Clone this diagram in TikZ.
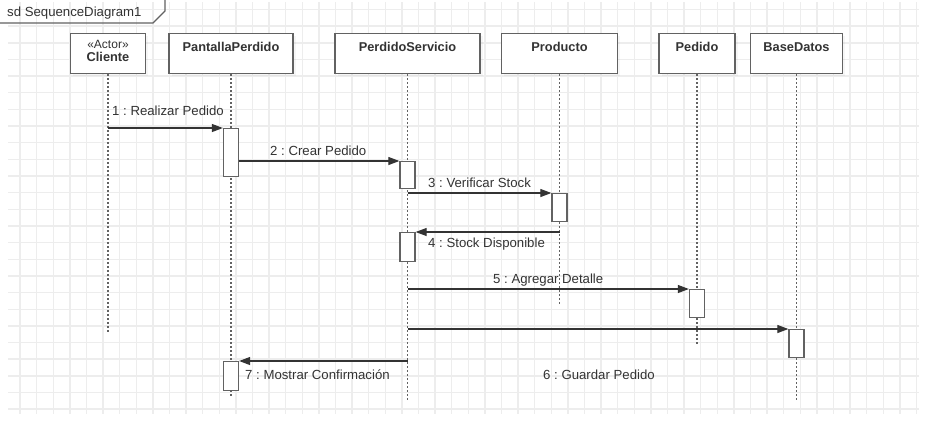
\documentclass[tikz,border=0pt]{standalone}
\usepackage{fontspec}
\setmainfont{Liberation Sans}
\usetikzlibrary{arrows.meta,shadows}
\definecolor{sdline}{HTML}{626262}
\definecolor{sdgrid}{HTML}{EDEDED}
\definecolor{sdtext}{HTML}{333333}
\frenchspacing

\begin{document}
\begin{tikzpicture}[x=1bp, y=-1bp,
  gridL/.style={line width=1.4bp, color=sdgrid},
  headBox/.style={draw=sdline, line width=1.4bp, fill=white, minimum height=40bp, inner sep=0pt, anchor=north,
    drop shadow={shadow xshift=2.5bp, shadow yshift=-2.5bp, fill=black, opacity=0.035}},
  headLbl/.style={font=\fontsize{12.8bp}{15bp}\selectfont\bfseries, text=sdtext, anchor=base, inner sep=0pt},
  lifeL/.style={dash pattern=on 2bp off 2bp, line width=1.1bp, color=sdline},
  actBox/.style={draw=sdline, line width=1.3bp, fill=white, minimum width=15bp, inner sep=0pt, anchor=north},
  msg/.style={line width=1.1bp, color=black!80, -{Triangle[length=11bp, width=8bp]}},
  msgLbl/.style={font=\fontsize{13.2bp}{15bp}\selectfont, text=sdtext, anchor=base west, inner sep=0pt},
]
\useasboundingbox (0,0) rectangle (931,431);
\fill[white] (0,0) rectangle (931,431);
% background grid
\foreach \k in {0,...,54} {
  \draw[gridL] (20+\k*16.6,2) -- (20+\k*16.6,414);
}
\foreach \k in {0,...,24} {
  \draw[gridL] (8,9.5+\k*16.65) -- (919,9.5+\k*16.65);
}
% frame tab
\draw[sdline, line width=1.4bp] (0,23) -- (153,23) -- (165,11) -- (165,0);
\node[font=\fontsize{13.2bp}{15bp}\selectfont, text=sdtext, anchor=base west, inner sep=0pt] (sdname) at (7,16) {sd SequenceDiagram1};
% heads and lifelines
\foreach \id/\xx/\ww/\yend in {%
  cli/108/75/333,
  pan/231/124/397,
  ser/407.5/145/401,
  pro/559.5/116/305,
  ped/697/76/346,
  bd/796.5/92/400%
} {
  \node[headBox, minimum width=\ww bp] (\id) at (\xx,33) {};
  \coordinate (\id-end) at (\xx,\yend);
  \draw[lifeL] (\id.south) -- (\id-end);
}
\node[font=\fontsize{12bp}{14bp}\selectfont, text=sdtext, anchor=base, inner sep=0pt] (cli-st) at (108,48.5) {«Actor»};
\node[headLbl] (cli-t) at (108,61.5) {Cliente};
\foreach \id/\txt in {pan/PantallaPerdido, ser/PerdidoServicio, pro/Producto, ped/Pedido, bd/BaseDatos} {
  \node[headLbl] (\id-t) at ([yshift=-18.5bp]\id.north) {\txt};
}
% activations
\foreach \id/\on/\ytop/\hh in {%
  a1/pan/128/48,
  a2/ser/161/27,
  a3/pro/193/28,
  a4/ser/232/29,
  a5/ped/289/28,
  a6/bd/329/28,
  a7/pan/361/29%
} {
  \node[actBox, minimum height=\hh bp] (\id) at (\on.south |- 0,\ytop) {};
}
% messages
\draw[msg] (cli.south |- a1.north) -- (a1.north west);
\draw[msg] (a1.east |- a2.north) -- (a2.north west);
\draw[msg] (ser.south |- a3.north) -- (a3.north west);
\draw[msg] (pro.south |- a4.north) -- (a4.north east);
\draw[msg] (ser.south |- a5.north) -- (a5.north west);
\draw[msg] (ser.south |- a6.north) -- (a6.north west);
\draw[msg] (ser.south |- a7.north) -- (a7.north east);
\foreach \id/\xx/\yy/\txt in {%
  m1/112/115/{1 : Realizar Pedido},
  m2/270/155/{2 : Crear Pedido},
  m3/428/187/{3 : Verificar Stock},
  m4/428/247/{4 : Stock Disponible},
  m5/493/283/{5 : Agregar Detalle},
  m6/543/379/{6 : Guardar Pedido},
  m7/245/379/{7 : Mostrar Confirmación}%
} {
  \node[msgLbl] (\id) at (\xx,\yy) {\txt};
}
\end{tikzpicture}
\end{document}
